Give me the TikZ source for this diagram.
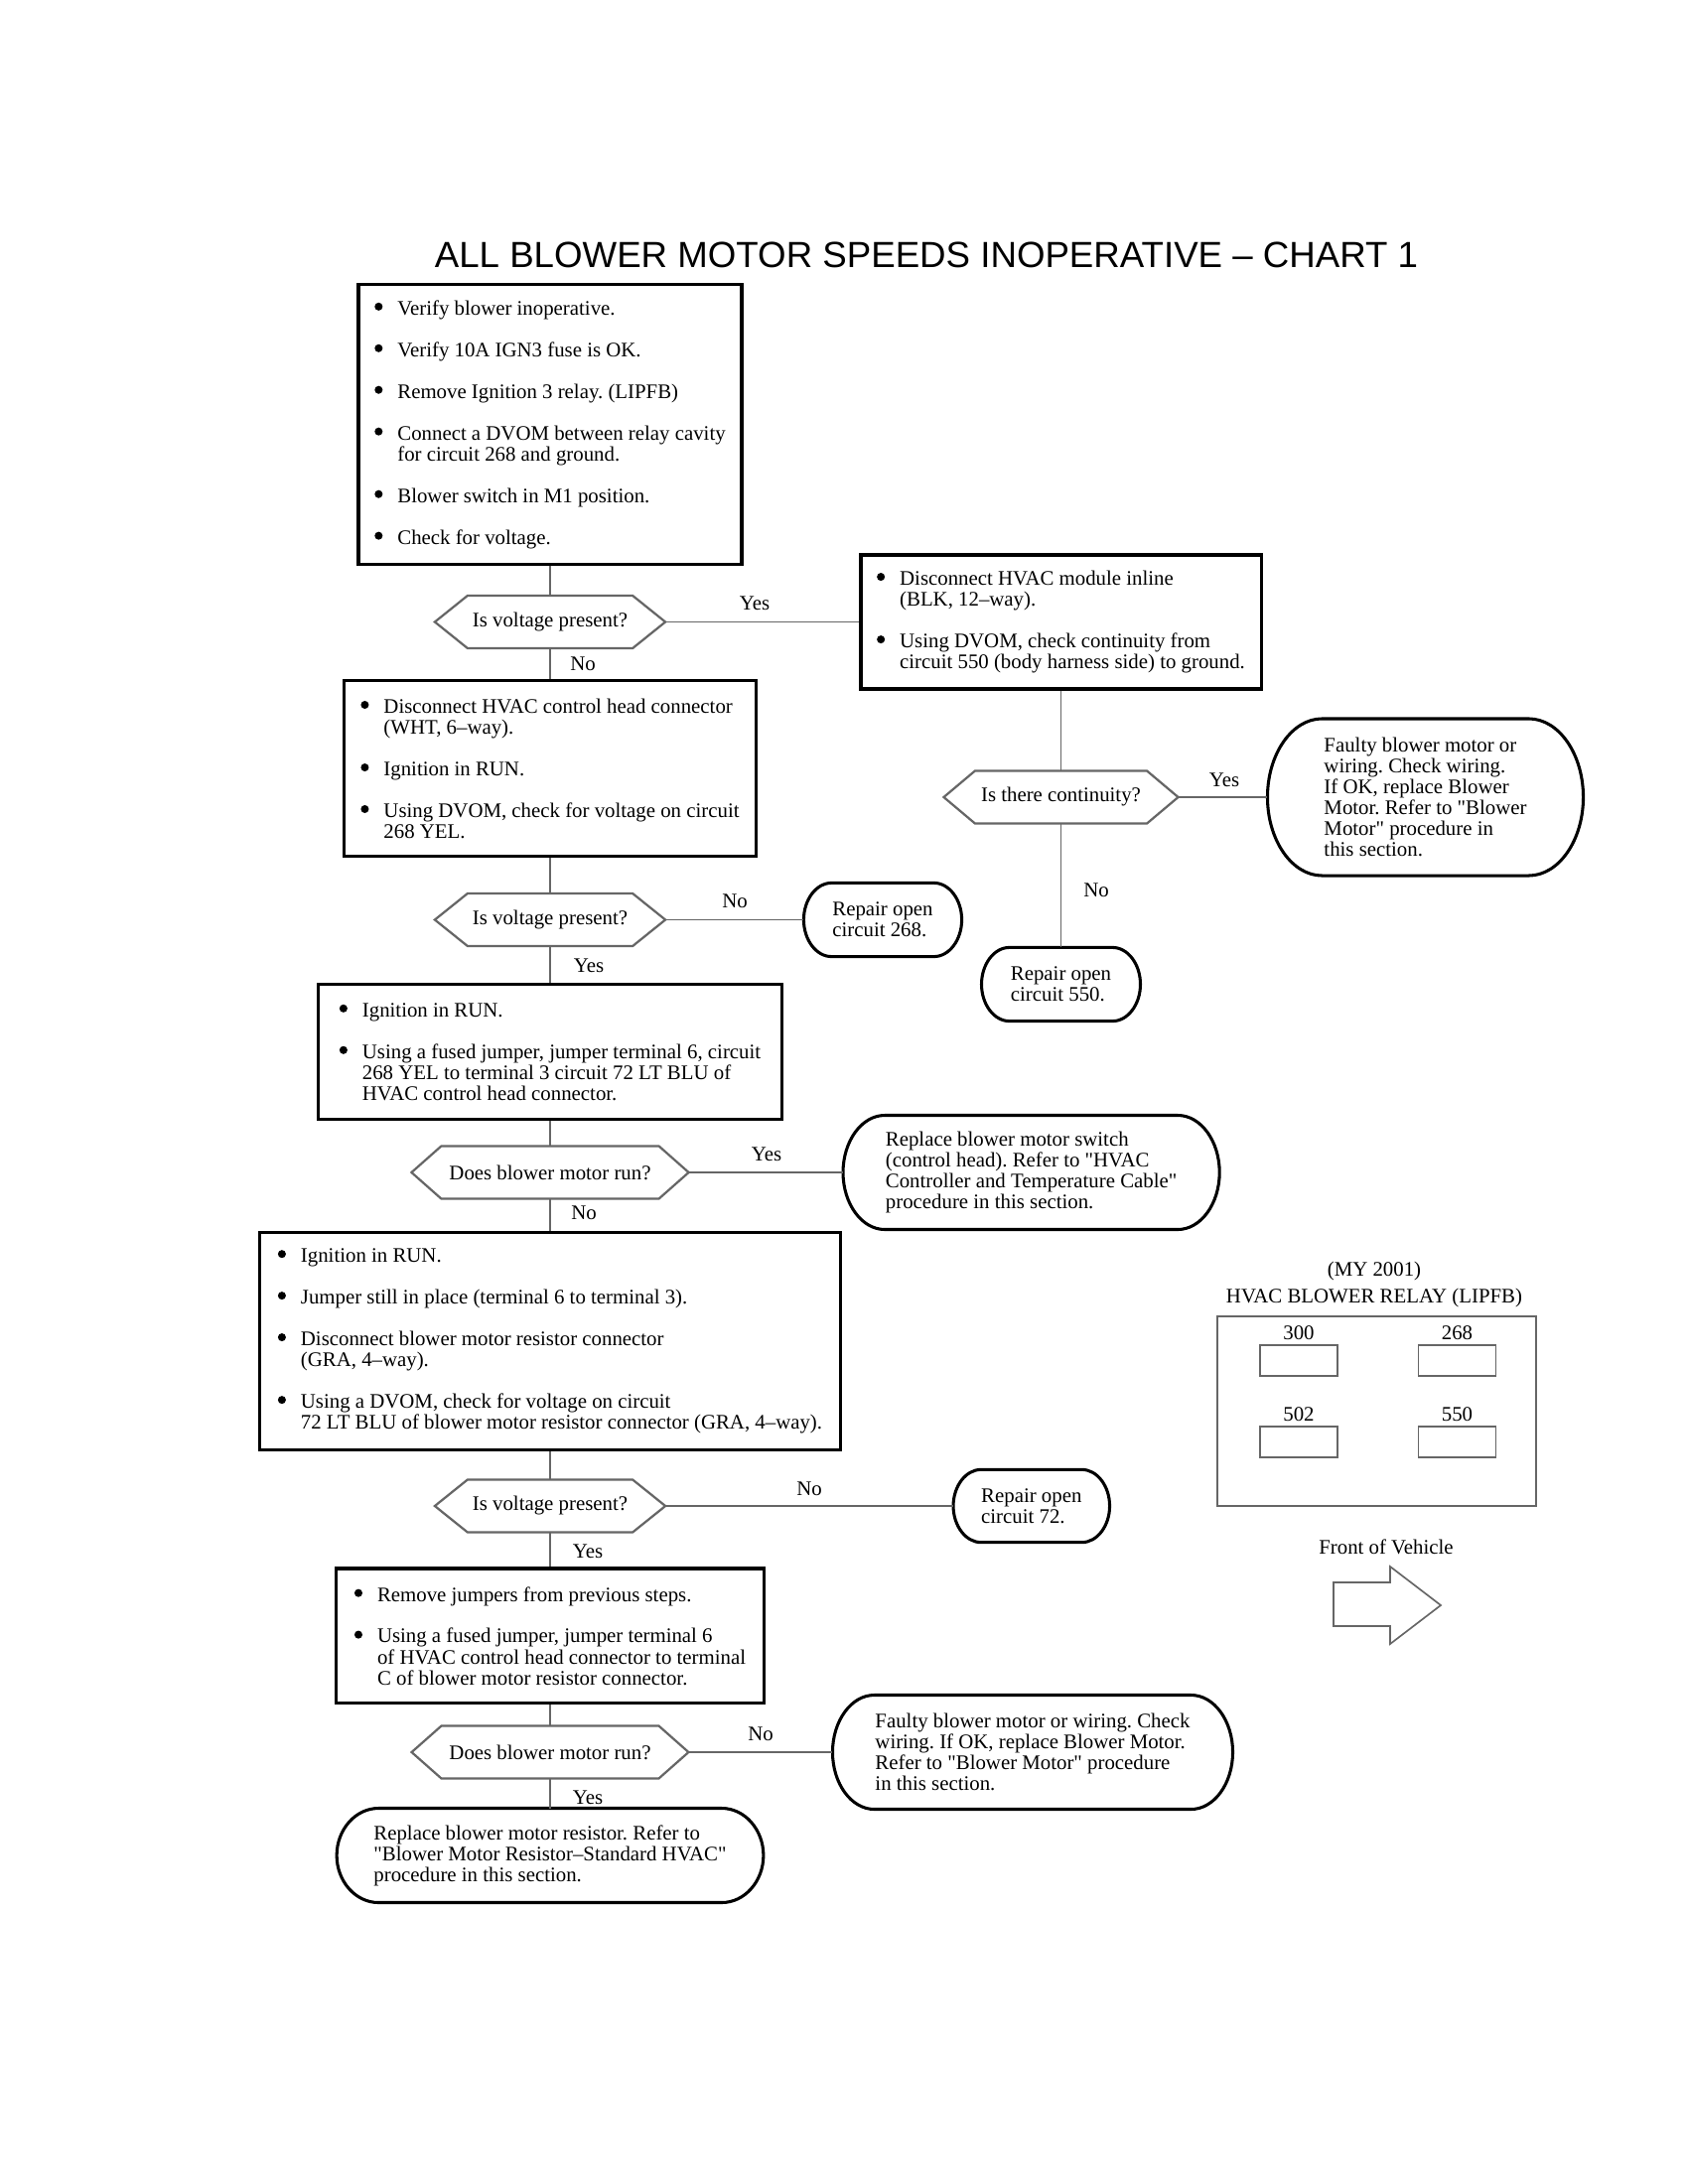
\documentclass[tikz,border=0pt]{standalone}
\usepackage{fontspec}
\setmainfont{Liberation Serif}[Ligatures=TeXOff]
\newfontfamily\titlefont{Liberation Sans}
\frenchspacing
\newcommand{\bdot}{\tikz[baseline=-3.0pt]\fill (0,0) circle (1.45pt);}
\newcommand{\bul}{\makebox[8.3pt][l]{\bdot}}
\newcommand{\ind}{\hspace*{8.3pt}}
\newcommand{\hexo}[2]{\draw[hexline] (#1.west) -- ([shift={(#2,0)}]#1.north west) -- ([shift={(-#2,0)}]#1.north east) -- (#1.east) -- ([shift={(-#2,0)}]#1.south east) -- ([shift={(#2,0)}]#1.south west) -- cycle;}
\newcommand{\termo}[3]{\draw[termline] ([shift={(#2,0)}]#1.north west) -- ([shift={(-#2,0)}]#1.north east)
 .. controls +({0.5523*#2},0) and +(0,{-0.5523*#3}) .. (#1.east)
 .. controls +(0,{0.5523*#3}) and +({0.5523*#2},0) .. ([shift={(-#2,0)}]#1.south east)
 -- ([shift={(#2,0)}]#1.south west)
 .. controls +({-0.5523*#2},0) and +(0,{0.5523*#3}) .. (#1.west)
 .. controls +(0,{-0.5523*#3}) and +({-0.5523*#2},0) .. ([shift={(#2,0)}]#1.north west) -- cycle;}
\tikzset{
 every node/.style={font=\fontsize{7.5pt}{7.6pt}\selectfont\frenchspacing, inner sep=0pt},
 stepbox/.style={draw, line width=1.1pt, rectangle, align=left},
 termnode/.style={rectangle, align=left},
 hexnode/.style={rectangle, align=center},
 link/.style={draw=black!60, line width=0.7pt},
 hexline/.style={draw=black!60, line width=0.8pt},
 termline/.style={draw=black, line width=1.1pt},
 relayline/.style={draw=black!60, line width=0.6pt},
}
\begin{document}
\begin{tikzpicture}[x=0.36pt,y=-0.36pt]
\fill[white] (0,0) rectangle (1700,2200);
\useasboundingbox (0,0) rectangle (1700,2200);

\node[font=\titlefont\fontsize{13.2pt}{15pt}\selectfont, anchor=base] (title) at (933,270) {ALL BLOWER MOTOR SPEEDS INOPERATIVE – CHART 1};

% main column
\node[stepbox, minimum width=138.96pt, minimum height=101.2pt] (b1) at (554,427.5) {%
\bul Verify blower inoperative.\\[7.5pt]
\bul Verify 10A IGN3 fuse is OK.\\[7.5pt]
\bul Remove Ignition 3 relay. (LIPFB)\\[7.5pt]
\bul Connect a DVOM between relay cavity\\
\ind for circuit 268 and ground.\\[7.5pt]
\bul Blower switch in M1 position.\\[7.5pt]
\bul Check for voltage.};

\node[hexnode, minimum width=83.2pt, minimum height=18.7pt] (d1) at (554,626.5) {Is voltage present?};
\hexo{d1}{33}

\node[stepbox, minimum width=149.2pt, minimum height=63.6pt] (b2) at (554,774.3) {%
\bul Disconnect HVAC control head connector\\
\ind (WHT, 6–way).\\[7.5pt]
\bul Ignition in RUN.\\[7.5pt]
\bul Using DVOM, check for voltage on circuit\\
\ind 268 YEL.};

\node[hexnode, minimum width=83.2pt, minimum height=18.7pt] (d2) at (554,926.5) {Is voltage present?};
\hexo{d2}{33}

\node[termnode, minimum width=56.9pt, minimum height=26.3pt] (t268) at (889,926.5) {Repair open\\circuit 268.};
\termo{t268}{28}{36.5}

\node[stepbox, minimum width=168.3pt, minimum height=48.8pt] (b3) at (554,1059.5) {%
\bul Ignition in RUN.\\[7.5pt]
\bul Using a fused jumper, jumper terminal 6, circuit\\
\ind 268 YEL to terminal 3 circuit 72 LT BLU of\\
\ind HVAC control head connector.};

\node[hexnode, minimum width=100.1pt, minimum height=18.7pt] (d3) at (554,1181) {Does blower motor run?};
\hexo{d3}{30}

\node[termnode, minimum width=136.1pt, minimum height=41pt] (tsw) at (1038.6,1181) {Replace blower motor switch\\(control head). Refer to "HVAC\\Controller and Temperature Cable"\\procedure in this section.};
\termo{tsw}{42}{57}

\node[stepbox, minimum width=210.4pt, minimum height=78.6pt] (b4) at (554,1350.9) {%
\bul Ignition in RUN.\\[7.5pt]
\bul Jumper still in place (terminal 6 to terminal 3).\\[7.5pt]
\bul Disconnect blower motor resistor connector\\
\ind (GRA, 4–way).\\[7.5pt]
\bul Using a DVOM, check for voltage on circuit\\
\ind 72 LT BLU of blower motor resistor connector (GRA, 4–way).};

\node[hexnode, minimum width=83.2pt, minimum height=18.7pt] (d4) at (554,1517) {Is voltage present?};
\hexo{d4}{33}

\node[termnode, minimum width=56.3pt, minimum height=26pt] (t72) at (1038.8,1517) {Repair open\\circuit 72.};
\termo{t72}{28}{36.1}

\node[stepbox, minimum width=155.3pt, minimum height=48.9pt] (b5) at (554,1647.9) {%
\bul Remove jumpers from previous steps.\\[7.5pt]
\bul Using a fused jumper, jumper terminal 6\\
\ind of HVAC control head connector to terminal\\
\ind C of blower motor resistor connector.};

\node[hexnode, minimum width=100pt, minimum height=18.7pt] (d5) at (554,1765) {Does blower motor run?};
\hexo{d5}{30}

\node[termnode, minimum width=144.7pt, minimum height=41pt] (tf2) at (1040,1765) {Faulty blower motor or wiring. Check\\wiring. If OK, replace Blower Motor.\\Refer to "Blower Motor" procedure\\in this section.};
\termo{tf2}{42}{57}

\node[termnode, minimum width=154.3pt, minimum height=33.8pt] (tlast) at (554,1869) {Replace blower motor resistor. Refer to\\"Blower Motor Resistor–Standard HVAC"\\procedure in this section.};
\termo{tlast}{42}{47}

% right column
\node[stepbox, minimum width=145.1pt, minimum height=48.6pt] (r1) at (1068.5,626.5) {%
\bul Disconnect HVAC module inline\\
\ind (BLK, 12–way).\\[7.5pt]
\bul Using DVOM, check continuity from\\
\ind circuit 550 (body harness side) to ground.};

\node[hexnode, minimum width=84.6pt, minimum height=18.7pt] (dR) at (1068.5,803) {Is there continuity?};
\hexo{dR}{31.5}

\node[termnode, minimum width=114.1pt, minimum height=56.5pt] (tfR) at (1435.5,803) {Faulty blower motor or\\wiring. Check wiring.\\If OK, replace Blower\\Motor. Refer to "Blower\\Motor" procedure in\\this section.};
\termo{tfR}{55}{78.5}

\node[termnode, minimum width=57.2pt, minimum height=26.3pt] (t550) at (1068.5,991.5) {Repair open\\circuit 550.};
\termo{t550}{28}{36.5}

% connectors
\draw[link] (b1.south) -- (d1.north);
\draw[link] (d1.east) -- (r1.west);
\draw[link] (d1.south) -- (b2.north);
\draw[link] (b2.south) -- (d2.north);
\draw[link] (d2.east) -- (t268.west);
\draw[link] (d2.south) -- (b3.north);
\draw[link] (b3.south) -- (d3.north);
\draw[link] (d3.east) -- (tsw.west);
\draw[link] (d3.south) -- (b4.north);
\draw[link] (b4.south) -- (d4.north);
\draw[link] (d4.east) -- (t72.west);
\draw[link] (d4.south) -- (b5.north);
\draw[link] (b5.south) -- (d5.north);
\draw[link] (d5.east) -- (tf2.west);
\draw[link] (d5.south) -- (tlast.north);
\draw[link] (r1.south) -- (dR.north);
\draw[link] (dR.east) -- (tfR.west);
\draw[link] (dR.south) -- (t550.north);

% labels
\node (y1) at (760,608) {Yes};
\node (n1) at (587,669) {No};
\node (n2) at (740,908) {No};
\node (y2) at (593,973) {Yes};
\node (y3) at (772,1163) {Yes};
\node (n3) at (588,1222) {No};
\node (n4) at (815,1500) {No};
\node (y4) at (592,1563) {Yes};
\node (n5) at (766,1747) {No};
\node (y5) at (592,1811) {Yes};
\node (yR) at (1233,786) {Yes};
\node (nR) at (1104,897) {No};

% relay diagram
\node (my) at (1384,1280) {(MY 2001)};
\node (relt) at (1384,1307) {HVAC BLOWER RELAY (LIPFB)};
\node[relayline, draw, minimum width=115.6pt, minimum height=68.8pt] (relay) at (1386.5,1421.5) {};
\node[relayline, draw, minimum width=28.1pt, minimum height=11.2pt] (c300) at (1308,1370.5) {};
\node[relayline, draw, minimum width=28.1pt, minimum height=11.2pt] (c268) at (1467.5,1370.5) {};
\node[relayline, draw, minimum width=28.1pt, minimum height=11.2pt] (c502) at (1308,1452.5) {};
\node[relayline, draw, minimum width=28.1pt, minimum height=11.2pt] (c550) at (1467.5,1452.5) {};
\node (l300) at (1308,1343) {300};
\node (l268) at (1467.5,1343) {268};
\node (l502) at (1308,1425) {502};
\node (l550) at (1467.5,1425) {550};
\node (fov) at (1396,1558) {Front of Vehicle};
\draw[relayline] (1343,1594) -- (1400,1594) -- (1400,1578) -- (1451,1617) -- (1400,1656) -- (1400,1638) -- (1343,1638) -- cycle;
\end{tikzpicture}
\end{document}
